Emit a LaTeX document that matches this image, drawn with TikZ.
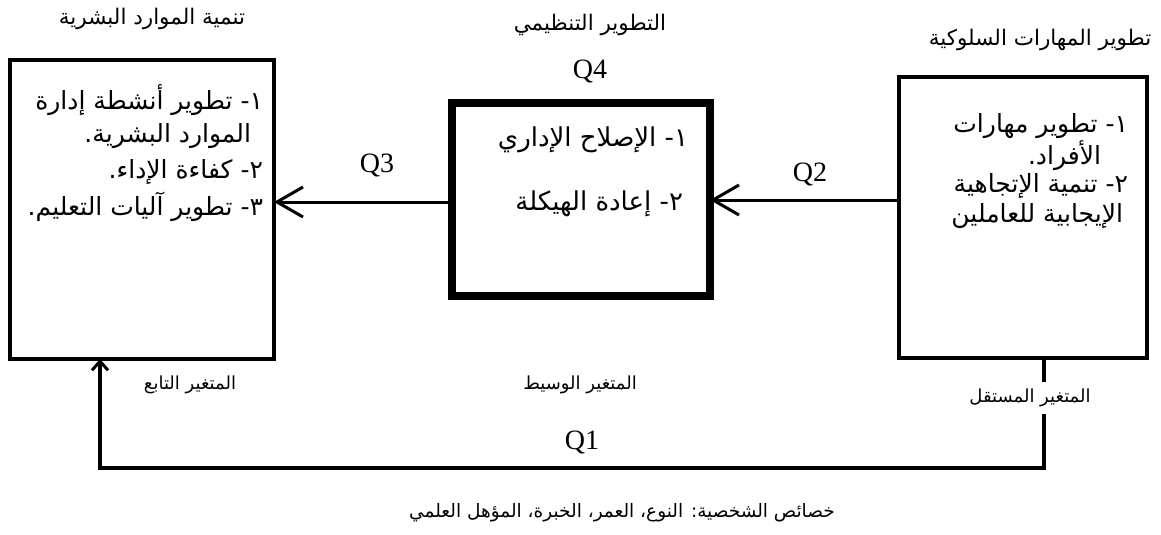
\documentclass[tikz,border=0pt]{standalone}
\usepackage{fontspec}
\setmainfont{Liberation Serif}
\newfontfamily\arfont[Script=Arabic]{DejaVu Sans}
\TeXXeTstate=1
\usetikzlibrary{arrows.meta}
\newcommand\artxt[1]{\arfont\beginR #1\endR}
\tikzset{
  every node/.style={inner sep=0pt, outer sep=0pt},
  ar/.style={font=\fontsize{18}{20}\selectfont\arfont},
  artitle/.style={font=\fontsize{21.5}{24}\selectfont\arfont},
  arbox/.style={font=\fontsize{25}{28}\selectfont\arfont, anchor=east},
  qlab/.style={font=\fontsize{28}{30}\selectfont},
  thinbox/.style={draw=black, line width=4pt, fill=none},
  thickbox/.style={draw=black, line width=8pt, fill=none},
  bigarr/.style={line width=3pt, -{Straight Barb[length=26pt,width=30pt,line width=3pt]}},
  smallarr/.style={line width=3.5pt, -{Straight Barb[length=9pt,width=16pt,line width=3pt]}},
}
\begin{document}
\begin{tikzpicture}[x=1pt,y=-1pt]
\useasboundingbox[fill=white] (0,0) rectangle (1161,535);
% boxes
\node[thinbox, minimum width=264pt, minimum height=299pt] (L) at (142,209.5) {};
\node[thickbox, minimum width=258pt, minimum height=193pt] (M) at (581,199.5) {};
\node[thinbox, minimum width=248pt, minimum height=281pt] (R) at (1023,217.5) {};
% titles
\node[artitle] (tL) at (152,19) {\artxt{تنمية الموارد البشرية}};
\node[artitle] (tM) at (590,25) {\artxt{التطوير التنظيمي}};
\node[qlab] (q4) at (590,71) {Q4};
\node[artitle] (tR) at (1040,40) {\artxt{تطوير المهارات السلوكية}};
% left box text
\node[arbox] (l1) at (263,100) {\artxt{١- تطوير أنشطة إدارة}};
\node[arbox] (l2) at (251,136) {\artxt{الموارد البشرية.}};
\node[arbox] (l3) at (263,172) {\artxt{٢- كفاءة الإداء.}};
\node[arbox] (l4) at (263,207) {\artxt{٣- تطوير آليات التعليم.}};
% middle box text
\node[arbox, font=\fontsize{26}{28}\selectfont\arfont] (m1) at (688,140) {\artxt{١- الإصلاح الإداري}};
\node[arbox, font=\fontsize{26}{28}\selectfont\arfont] (m2) at (683,204) {\artxt{٢- إعادة الهيكلة}};
% right box text
\node[arbox] (r1) at (1128,126) {\artxt{١- تطوير مهارات}};
\node[arbox] (r2) at (1101,156) {\artxt{الأفراد.}};
\node[arbox] (r3) at (1128,186) {\artxt{٢- تنمية الإتجاهية}};
\node[arbox] (r4) at (1123,216) {\artxt{الإيجابية للعاملين}};
% arrows
\draw[bigarr] (M.west|-0,202) -- (L.east|-0,202);
\draw[bigarr] (R.west|-0,200) -- (M.east|-0,200);
\node[qlab] (q3) at (377,165) {Q3};
\node[qlab] (q2) at (810,174) {Q2};
% bottom loop
\coordinate (c1) at (1044,468);
\coordinate (c2) at (100,468);
\draw[smallarr] (R.south-|c1) -- (c1) -- (c2) -- (L.south-|c2);
\node[qlab] (q1) at (582,442) {Q1};
% variable labels
\node[ar] (vL) at (190,385) {\artxt{المتغير التابع}};
\node[ar] (vM) at (580,385) {\artxt{المتغير الوسيط}};
\node[ar, fill=white, inner xsep=1pt, inner ysep=7pt] (vR) at (1030,398) {\artxt{المتغير المستقل}};
% caption
\node[font=\fontsize{18.5}{20}\selectfont\arfont] (cap) at (622,513) {\artxt{خصائص الشخصية: النوع، العمر، الخبرة، المؤهل العلمي}};
\end{tikzpicture}
\end{document}
